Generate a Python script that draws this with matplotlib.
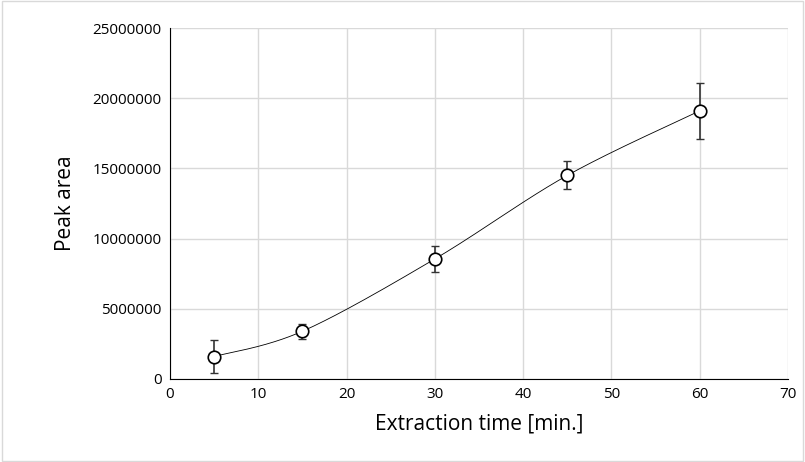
import matplotlib
matplotlib.use("Agg")
import matplotlib.pyplot as plt
import numpy as np

x = [5, 15, 30, 45, 60]
y = [1600000, 3400000, 8550000, 14500000, 19100000]
err = [1150000, 550000, 950000, 1000000, 2000000]

plt.rcParams['font.family'] = ['Open Sans', 'DejaVu Sans']
fig = plt.figure(figsize=(8.05, 4.62), dpi=100)
ax = fig.add_axes([170/805, 1-379/462, 618/805, 351/462])
fig.patches.append(plt.Rectangle((0.002, 0.002), 0.996, 0.996, transform=fig.transFigure,
                                 fill=False, edgecolor='#d9d9d9', lw=1))

# smoothed line (Catmull-Rom style Bezier, like Excel smoothing)
P = np.column_stack([x, y]).astype(float)
Pe = np.vstack([P[0], P, P[-1]])
xs, ys = [], []
t = np.linspace(0, 1, 60)[:, None]
for i in range(len(P) - 1):
    p0, p1, p2, p3 = Pe[i], Pe[i+1], Pe[i+2], Pe[i+3]
    c1 = p1 + (p2 - p0) / 6
    c2 = p2 - (p3 - p1) / 6
    B = ((1-t)**3)*p1 + 3*((1-t)**2)*t*c1 + 3*(1-t)*t**2*c2 + t**3*p2
    xs.extend(B[:, 0]); ys.extend(B[:, 1])
ax.plot(xs, ys, color='black', lw=0.6, zorder=2)
ax.errorbar(x, y, yerr=err, fmt='none', ecolor='#333333', elinewidth=1.2, capsize=3, zorder=3)
ax.plot(x, y, 'o', mfc='white', mec='black', ms=9, mew=1.2, zorder=4)

ax.set_xlim(0, 70)
ax.set_ylim(0, 25000000)
ax.set_xticks(range(0, 71, 10))
ax.set_yticks(range(0, 25000001, 5000000))
ax.set_yticklabels([str(v) for v in range(0, 25000001, 5000000)])
ax.grid(True, color='#d9d9d9', lw=1)
ax.set_axisbelow(True)
for s in ['top', 'right']:
    ax.spines[s].set_visible(False)
ax.spines['left'].set_color('black')
ax.spines['bottom'].set_color('black')
ax.tick_params(length=0, labelsize=11, pad=6)
ax.set_xlabel('Extraction time [min.]', fontsize=15, labelpad=8)
ax.set_ylabel('Peak area', fontsize=15, labelpad=12)
fig.savefig('out.png', dpi=100)
